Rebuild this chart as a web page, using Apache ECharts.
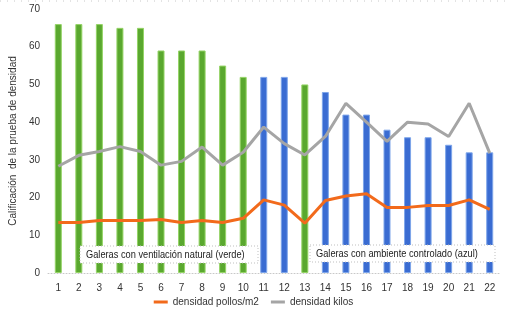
<!DOCTYPE html>
<html>
<head>
<meta charset="utf-8">
<script src="https://cdn.jsdelivr.net/npm/echarts@6/dist/echarts.min.js"></script>
<style>
html, body { margin: 0; padding: 0; background: #fff; }
#chart { width: 507px; height: 314px; }
</style>
</head>
<body>
<div id="chart"></div>
<script>
const categories = ['1', '2', '3', '4', '5', '6', '7', '8', '9', '10', '11',
    '12', '13', '14', '15', '16', '17', '18', '19', '20', '21', '22']
// calificacion de la prueba de densidad (barras)
const scores = [66, 66, 66, 65, 65, 59, 59, 59, 55, 52, 52,
    52, 50, 48, 42, 42, 38, 36, 36, 34, 32, 32]
// tipo de galera: 'v' = ventilacion natural (verde), 'a' = ambiente controlado (azul)
const galeraType = ['v', 'v', 'v', 'v', 'v', 'v', 'v', 'v', 'v', 'v', 'a',
    'a', 'v', 'a', 'a', 'a', 'a', 'a', 'a', 'a', 'a', 'a']
const pollosM2 = [13.4, 13.4, 13.9, 13.9, 13.9, 14.2, 13.4, 13.9, 13.4, 14.5, 19.4,
    18, 13.2, 19.2, 20.4, 21, 17.4, 17.4, 17.9, 17.9, 19.4, 16.9]
const kilos = [28.3, 31.2, 32.2, 33.5, 32.2, 28.6, 29.6, 33.4, 28.6, 32, 38.7,
    34.3, 31.3, 36.2, 45, 40, 34.9, 40, 39.5, 36.2, 45, 31.8]
const yTicks = [0, 10, 20, 30, 40, 50, 60, 70]

const colors = {
    v: { fill: '#5aa82f', border: '#95d466' },
    a: { fill: '#3a6cd2', border: '#7ea6ea' }
}

const font = '"Liberation Sans", sans-serif'

let barData = scores.map((v, i) => ({
    value: v,
    itemStyle: {
        color: colors[galeraType[i]].fill,
        borderColor: colors[galeraType[i]].border,
        borderWidth: 1
    }
}))

// cuadro de texto encima de las barras
const annotBox = (x, y, w, h, text) => ({
    type: 'group',
    x: x,
    y: y,
    z: 100,
    children: [{
        type: 'rect',
        z: 100,
        shape: { x: 0, y: 0, width: w, height: h },
        style: { fill: '#fff', stroke: '#bfbfbf', lineWidth: 1, lineDash: [1, 2] }
    }, {
        type: 'text',
        z: 101,
        x: 6,
        y: 3,
        scaleX: 0.84,
        style: { text: text, fill: '#222', font: '11px ' + font }
    }]
})

let option = {
    animation: false,
    grid: {
        left: 47,
        right: 7,
        top: 9,
        bottom: 41,
        containLabel: false
    },
    legend: {
        bottom: 2,
        left: 'center',
        itemWidth: 14,
        itemHeight: 3,
        itemGap: 12,
        textStyle: { fontSize: 10, color: '#333', fontFamily: font },
        data: [
            { name: 'densidad pollos/m2', icon: 'rect' },
            { name: 'densidad kilos', icon: 'rect' }
        ]
    },
    xAxis: {
        type: 'category',
        data: categories,
        axisLine: { show: true, lineStyle: { color: '#c8c8c8', type: [1, 2] } },
        axisTick: { show: false },
        axisLabel: { color: '#333', fontSize: 10, margin: 10, fontFamily: font }
    },
    yAxis: {
        type: 'value',
        min: yTicks[0],
        max: yTicks[yTicks.length - 1],
        interval: 10,
        name: 'Calificación  de la prueba de densidad',
        nameLocation: 'middle',
        nameGap: 30,
        nameTextStyle: { fontSize: 10, color: '#333', fontFamily: font },
        axisLine: { show: false },
        axisTick: { show: false },
        splitLine: { show: false },
        axisLabel: { color: '#333', fontSize: 10, margin: 8, fontFamily: font }
    },
    series: [{
        name: 'calificacion',
        type: 'bar',
        barWidth: 7,
        data: barData,
        z: 1
    }, {
        name: 'densidad pollos/m2',
        type: 'line',
        symbol: 'none',
        color: '#f26a1b',
        lineStyle: { width: 3, color: '#f26a1b' },
        data: pollosM2,
        z: 3
    }, {
        name: 'densidad kilos',
        type: 'line',
        symbol: 'none',
        color: '#a5a5a5',
        lineStyle: { width: 3, color: '#a5a5a5' },
        data: kilos,
        z: 2
    }],
    graphic: [
        {
            type: 'line',
            shape: { x1: 0, y1: 1, x2: 507, y2: 1 },
            style: { stroke: '#c8c8c8', lineWidth: 1, lineDash: [1, 6] }
        },
        annotBox(80, 246, 178, 17, 'Galeras con ventilación natural (verde)'),
        annotBox(310, 245, 185, 17, 'Galeras con ambiente controlado (azul)')
    ]
}

const EC = echarts.init(document.getElementById('chart'))
EC.setOption(option)
</script>
</body>
</html>
